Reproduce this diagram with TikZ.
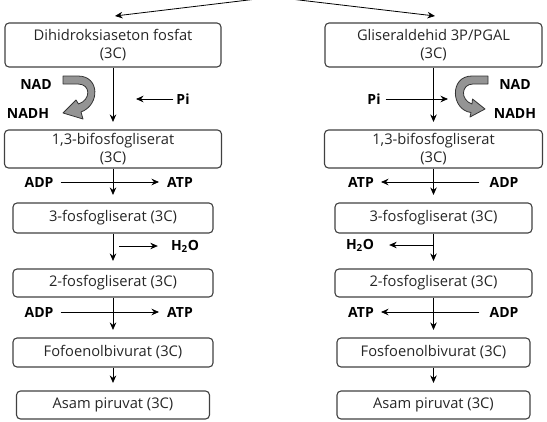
\documentclass[tikz,border=0pt]{standalone}
\usepackage{fontspec}
\setmainfont{Open Sans}
\usetikzlibrary{arrows.meta}
\begin{document}
\begin{tikzpicture}[x=1pt,y=-1pt,
  box/.style={draw=black!75, line width=1.1pt, rounded corners=4pt, align=center, inner sep=0pt, text=black!85, font=\fontsize{14.7}{18.5}\selectfont},
  lab/.style={font=\bfseries\fontsize{14}{17}\selectfont, inner sep=0pt},
  arr/.style={-{Stealth[length=7.5pt,width=6.5pt]}, line width=0.8pt},
  blk/.style={fill=black!42, draw=black!80, line width=0.8pt, line join=round}
]
\useasboundingbox (0,0) rectangle (547,421);
\clip (0,0) rectangle (547,421);

% boxes
\node[box, minimum width=216pt, minimum height=44pt] (L1) at (113,45) {Dihidroksiaseton fosfat\\(3C)};
\node[box, minimum width=217pt, minimum height=44pt] (R1) at (433.5,45) {Gliseraldehid 3P/PGAL\\(3C)};
\node[box, minimum width=217pt, minimum height=38pt] (L2) at (113,149) {1,3-bifosfogliserat\\(3C)};
\node[box, minimum width=218pt, minimum height=38pt] (R2) at (433.5,149) {1,3-bifosfogliserat\\(3C)};
\node[box, minimum width=200pt, minimum height=30pt] (L3) at (113,218) {3-fosfogliserat (3C)};
\node[box, minimum width=197pt, minimum height=30pt] (R3) at (433.5,218) {3-fosfogliserat (3C)};
\node[box, minimum width=200pt, minimum height=28pt] (L4) at (113,283) {2-fosfogliserat (3C)};
\node[box, minimum width=197pt, minimum height=28pt] (R4) at (433.5,283) {2-fosfogliserat (3C)};
\node[box, minimum width=200pt, minimum height=29pt] (L5) at (113,352.5) {Fofoenolbivurat (3C)};
\node[box, minimum width=193pt, minimum height=29pt] (R5) at (433.5,352.5) {Fosfoenolbivurat (3C)};
\node[box, minimum width=193pt, minimum height=28pt] (L6) at (113,405) {Asam piruvat (3C)};
\node[box, minimum width=193pt, minimum height=28pt] (R6) at (433.5,405) {Asam piruvat (3C)};

% top split arrows
\coordinate (top) at (273.5,-3);
\coordinate (tipL) at (115,16);
\coordinate (tipR) at (435,16);
\draw[arr] (top) -- (tipL);
\draw[arr] (top) -- (tipR);

% vertical arrows
\foreach \a/\b in {L1/L2,L2/L3,L3/L4,L4/L5,L5/L6,R1/R2,R2/R3,R3/R4,R4/R5,R5/R6}{
  \draw[arr] (\a.south) -- ([yshift=7.5pt]\a.south |- \b.north);
}

% labels
\node[lab] (nadL) at (36,84) {NAD};
\node[lab] (nadhL) at (28,113) {NADH};
\node[lab] (nadR) at (515,84) {NAD};
\node[lab] (nadhR) at (515,113) {NADH};
\node[lab] (piL) at (183,99) {Pi};
\node[lab] (piR) at (374,99) {Pi};
\node[lab] (adpL1) at (39,182) {ADP};
\node[lab] (atpL1) at (180,182) {ATP};
\node[lab] (atpR1) at (361,182) {ATP};
\node[lab] (adpR1) at (504,182) {ADP};
\node[lab] (h2oL) at (185,246) {H\textsubscript{2}O};
\node[lab] (h2oR) at (360,245) {H\textsubscript{2}O};
\node[lab] (adpL2) at (39,312) {ADP};
\node[lab] (atpL2) at (180,312) {ATP};
\node[lab] (atpR2) at (361,312) {ATP};
\node[lab] (adpR2) at (504,312) {ADP};

% side arrows
\coordinate (piLend) at (136,99);
\coordinate (piRend) at (448,99);
\draw[arr, shorten <=3pt] (piL) -- (piLend);
\draw[arr, shorten <=5pt] (piR) -- (piRend);
\draw[arr, shorten <=7pt, shorten >=8pt] (adpL1) -- (atpL1);
\draw[arr, shorten <=7pt, shorten >=8pt] (adpL2) -- (atpL2);
\draw[arr, shorten <=10pt, shorten >=7pt] (adpR1) -- (atpR1);
\draw[arr, shorten <=10pt, shorten >=7pt] (adpR2) -- (atpR2);
\coordinate (h2oLstart) at (119,246);
\coordinate (h2oRstart) at (433,245);
\draw[arr, shorten >=13pt] (h2oLstart) -- (h2oL);
\draw[arr, shorten >=15pt] (h2oRstart) -- (h2oR);

% curved block arrows
\draw[blk] (63,76) -- (78,76) .. controls (100,76) and (100,105) .. (81,112)
  -- (83,119) -- (63,113) -- (76,100) -- (78.5,104)
  .. controls (91,100) and (91,84) .. (78,84) -- (63,84) -- cycle;
\draw[blk] (488,76) -- (472,76) .. controls (449,76) and (451,110) .. (471,112.5)
  -- (470,117) -- (485,109) -- (472.5,99) -- (472,104)
  .. controls (460,100) and (461,84) .. (473,84) -- (488,84) -- cycle;
\end{tikzpicture}
\end{document}
